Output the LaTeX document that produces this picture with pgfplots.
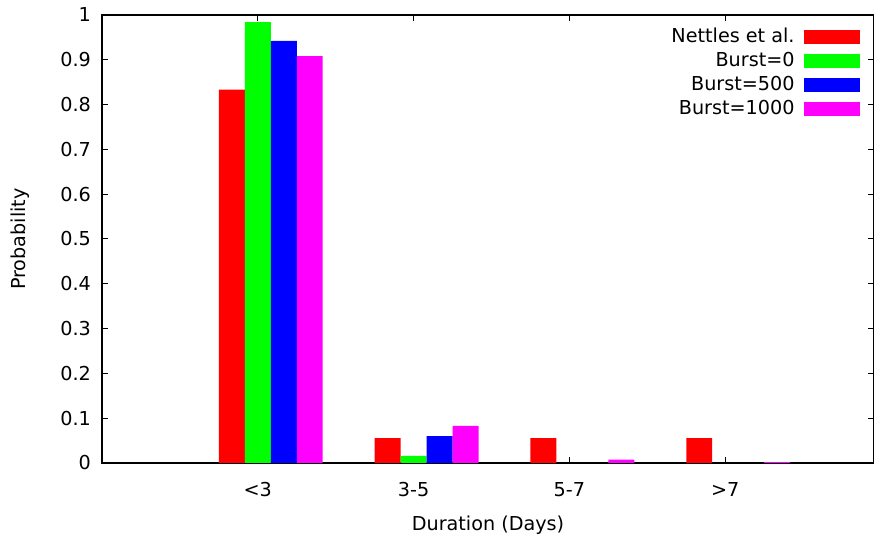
\documentclass[border=0pt]{standalone}
\usepackage{fontspec}
\setmainfont{DejaVu Sans}
\usepackage{pgfplots}
\pgfplotsset{compat=1.18}
\definecolor{gred}{RGB}{255,0,0}
\definecolor{ggreen}{RGB}{0,255,0}
\definecolor{gblue}{RGB}{0,0,255}
\definecolor{gmag}{RGB}{255,0,255}
\begin{document}
\begin{tikzpicture}
\useasboundingbox (-51pt,-38pt) rectangle (386pt,231.5pt);
\begin{axis}[
  at={(0,0)}, anchor=south west,
  scale only axis, width=386pt, height=224pt,
  font=\fontsize{9.6}{11.5}\selectfont,
  /pgf/number format/assume math mode=true,
  ybar=0pt, bar width=0.16667,
  xmin=0, xmax=4.955, ymin=0, ymax=1,
  xtick={1,2,3,4}, xticklabels={{<3},{3-5},{5-7},{>7}},
  ytick={0,0.1,0.2,0.3,0.4,0.5,0.6,0.7,0.8,0.9,1},
  yticklabels={0,0.1,0.2,0.3,0.4,0.5,0.6,0.7,0.8,0.9,1},
  tick align=inside, major tick length=3pt,
  tick style={black, line width=0.5pt},
  axis line style={black, line width=0.6pt},
  xticklabel style={yshift=-6pt},
  yticklabel style={xshift=-2pt},
  xlabel={Duration (Days)}, ylabel={Probability},
  xlabel style={at={(axis description cs:0.5,0)}, anchor=center, yshift=-31pt},
  ylabel style={at={(axis description cs:0,0.5)}, anchor=center, xshift=0pt, yshift=41pt},
  legend style={draw=none, fill=none, at={(rel axis cs:1,1)}, anchor=north east,
    xshift=-6pt, yshift=-3.5pt, row sep=-0.75pt, inner sep=1pt},
  legend cell align=right, legend plot pos=right,
  every axis plot post/.append style={draw=none,
    legend image code/.code={\path (0pt,0pt); \fill[##1] (2.5pt,-3.5pt) rectangle (30.5pt,3.5pt);}},
]
\addplot[fill=gred, bar shift=-0.16667] coordinates {(1,0.8333) (2,0.0556) (3,0.0556) (4,0.0556)};
\addlegendentry{Nettles et al.}
\addplot[fill=ggreen, bar shift=0] coordinates {(1,0.984) (2,0.016)};
\addlegendentry{Burst=0}
\addplot[fill=gblue, bar shift=0.16667] coordinates {(1,0.942) (2,0.060)};
\addlegendentry{Burst=500}
\addplot[fill=gmag, bar shift=0.33333] coordinates {(1,0.908) (2,0.083) (3,0.0075) (4,0.0018)};
\addlegendentry{Burst=1000}
\end{axis}
\end{tikzpicture}
\end{document}
